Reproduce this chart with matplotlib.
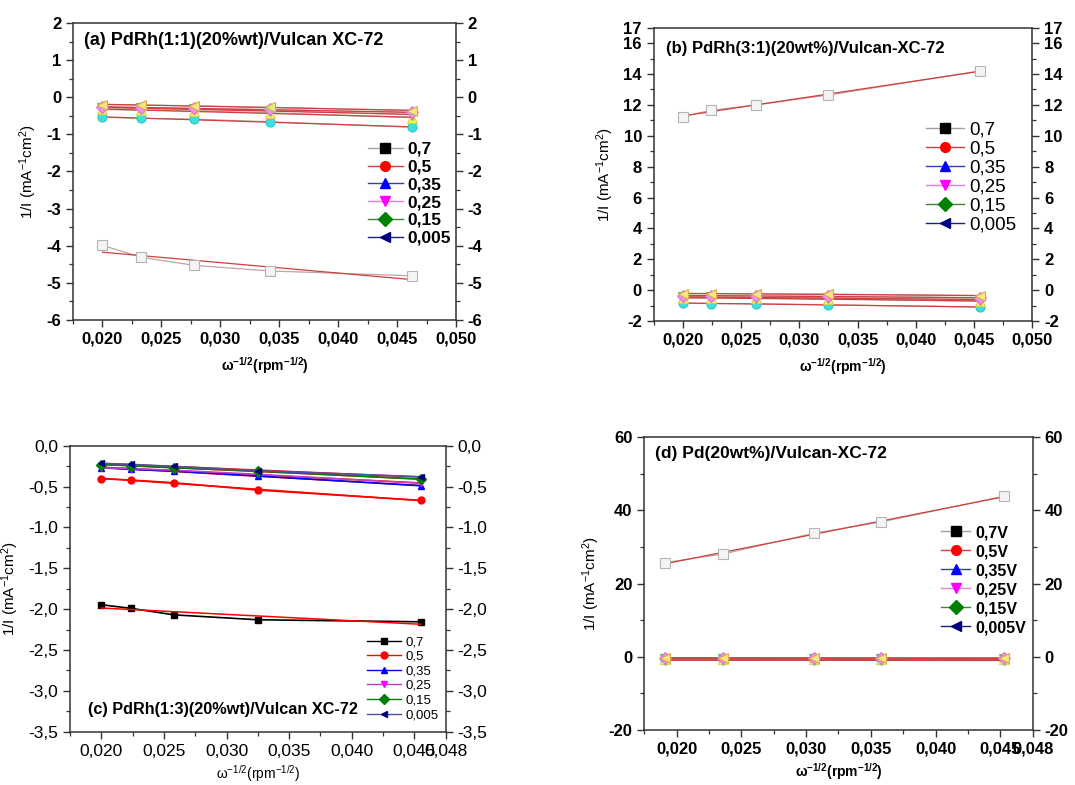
import numpy as np
import matplotlib.pyplot as plt
from matplotlib.lines import Line2D
from matplotlib.ticker import FixedLocator, MultipleLocator, FuncFormatter

plt.rcParams['font.family'] = ['Liberation Sans', 'DejaVu Sans']
plt.rcParams['mathtext.default'] = 'regular'

potentials = ['0,7', '0,5', '0,35', '0,25', '0,15', '0,005']
potentials_d = ['0,7V', '0,5V', '0,35V', '0,25V', '0,15V', '0,005V']

# (a) PdRh(1:1)
x_a = [0.020, 0.0233, 0.0278, 0.0342, 0.0463]
a_07 = [-3.99, -4.31, -4.53, -4.68, -4.81]
a_05 = [-0.54, -0.57, -0.59, -0.66, -0.81]
a_035 = [-0.33, -0.35, -0.37, -0.42, -0.55]
a_025 = [-0.28, -0.30, -0.32, -0.36, -0.47]
a_015 = [-0.26, -0.28, -0.30, -0.33, -0.41]
a_0005 = [-0.20, -0.21, -0.23, -0.27, -0.36]

# (b) PdRh(3:1)
x_b = [0.020, 0.0224, 0.0263, 0.0325, 0.0455]
b_07 = [11.24, 11.65, 12.0, 12.64, 14.2]
b_05 = [-0.85, -0.87, -0.88, -0.95, -1.1]
b_035 = [-0.50, -0.52, -0.53, -0.56, -0.72]
b_025 = [-0.44, -0.46, -0.48, -0.50, -0.62]
b_015 = [-0.35, -0.36, -0.38, -0.40, -0.50]
b_0005 = [-0.22, -0.23, -0.24, -0.26, -0.36]

# (c) PdRh(1:3)
x_c = [0.020, 0.02235, 0.0258, 0.0325, 0.0455]
c_07 = [-1.946, -1.99, -2.07, -2.13, -2.155]
c_05 = [-0.404, -0.42, -0.453, -0.543, -0.669]
c_035 = [-0.27, -0.29, -0.31, -0.37, -0.49]
c_025 = [-0.27, -0.28, -0.30, -0.35, -0.46]
c_015 = [-0.23, -0.245, -0.27, -0.31, -0.41]
c_0005 = [-0.216, -0.228, -0.253, -0.306, -0.38]

# (d) Pd
x_d = [0.0191, 0.0236, 0.0306, 0.0358, 0.0453]
d_07 = [25.74, 28.1, 33.76, 36.86, 43.87]
d_05 = [-0.95, -0.95, -0.98, -0.98, -1.0]
d_035 = [-0.60, -0.60, -0.62, -0.62, -0.65]
d_025 = [-0.50, -0.50, -0.52, -0.52, -0.55]
d_015 = [-0.40, -0.40, -0.42, -0.42, -0.45]
d_0005 = [-0.30, -0.30, -0.32, -0.32, -0.35]

markers = ['s', 'o', '^', 'v', 'D', '<']
orig_colors = ['black', 'red', 'blue', 'magenta', 'green', 'navy']
# washed-out (inverted looking) marker colours of panels a, b, d
inv_face = ['#f4f4f4', '#40dede', '#f6ef6a', '#74e074', '#f290f0', '#f6e486']
inv_edge = ['#b4b4b4', '#2cc8c8', '#e2cf3c', '#4cc44c', '#e070e0', '#e0a846']
leg_lines = ['#a0a0a0', '#d04040', '#3040b0', '#e080e0', '#408040', '#20207a']

def fmtX(v, pos):
  return '{:.3f}'.format(v).replace('.', ',')

def styleAxes(ax, bold=True, size=12):
  for s in ax.spines.values():
    s.set_linewidth(1.1)
    s.set_color('#333333')
  w = 'bold' if bold else 'normal'
  ax.tick_params(which='both', direction='out', right=True, top=False,
                 labelright=True, labelsize=size, color='#333333')
  ax.tick_params(which='major', length=5, width=1.0)
  ax.tick_params(which='minor', length=3, width=0.9)
  for lab in ax.get_xticklabels() + ax.get_yticklabels():
    lab.set_fontweight(w)
  ax.xaxis.set_major_formatter(FuncFormatter(fmtX))
  ax.set_xlabel(r'$\omega^{-1/2}$(rpm$^{-1/2}$)', fontsize=10, fontweight=w, labelpad=6)
  ax.set_ylabel(r'1/I (mA$^{-1}$cm$^{2}$)', fontsize=11, labelpad=5)

def fitLine(ax, x, y, color, lw):
  k, b = np.polyfit(x, y, 1)
  xx = np.array([x[0], x[-1]])
  ax.plot(xx, k * xx + b, color=color, lw=lw, zorder=3)

def fadedPanel(ax, x, series, ms):
  for i, y in enumerate(series):
    ax.plot(x, y, color='#c4a4a4', lw=0.9, zorder=2)
    fitLine(ax, x, y, '#cc4040', 0.9)
    ax.plot(x, y, ls='none', marker=markers[i], ms=ms, mfc=inv_face[i],
            mec=inv_edge[i], mew=0.8, zorder=4 + i)

def legendHandles(line_colors, ms):
  return [Line2D([], [], color=line_colors[i], lw=1.0, marker=markers[i], ms=ms,
                 mfc=orig_colors[i], mec=orig_colors[i]) for i in range(6)]

fig = plt.figure(figsize=(10.75, 7.85), dpi=100)

# ---------------- (a)
ax = fig.add_axes([0.0679, 0.5924, 0.3563, 0.3783])
fadedPanel(ax, x_a, [a_07, a_05, a_035, a_025, a_015, a_0005], 6.5)
ax.set_xlim(0.0175, 0.050)
ax.set_ylim(-6, 2)
ax.xaxis.set_major_locator(MultipleLocator(0.005))
ax.xaxis.set_minor_locator(FixedLocator(np.arange(0.0175, 0.050, 0.005)))
ax.yaxis.set_major_locator(MultipleLocator(1))
ax.yaxis.set_minor_locator(MultipleLocator(0.5))
ax.yaxis.set_major_formatter(FuncFormatter(lambda v, p: '{:g}'.format(v)))
styleAxes(ax)
ax.text(0.03, 0.94, '(a) PdRh(1:1)(20%wt)/Vulcan XC-72', transform=ax.transAxes,
        fontsize=13, fontweight='bold', va='center')
ax.legend(legendHandles(leg_lines, 7), potentials, loc='upper left',
          bbox_to_anchor=(0.77, 0.60), frameon=False,
          prop={'weight': 'bold', 'size': 12.5}, handlelength=2.0,
          handletextpad=0.3, labelspacing=0.15, borderpad=0, borderaxespad=0)

# ---------------- (b)
ax = fig.add_axes([0.6081, 0.5911, 0.3522, 0.3736])
fadedPanel(ax, x_b, [b_07, b_05, b_035, b_025, b_015, b_0005], 6.5)
ax.set_xlim(0.0175, 0.050)
ax.set_ylim(-2, 17)
ax.xaxis.set_major_locator(MultipleLocator(0.005))
ax.xaxis.set_minor_locator(FixedLocator(np.arange(0.0175, 0.050, 0.005)))
ax.yaxis.set_major_locator(FixedLocator([-2, 0, 2, 4, 6, 8, 10, 12, 14, 16, 17]))
ax.yaxis.set_minor_locator(FixedLocator(np.arange(-1, 16, 2)))
ax.yaxis.set_major_formatter(FuncFormatter(lambda v, p: '{:g}'.format(v)))
styleAxes(ax)
ax.text(0.032, 0.93, '(b) PdRh(3:1)(20wt%)/Vulcan-XC-72', transform=ax.transAxes,
        fontsize=12, fontweight='bold', va='center')
ax.legend(legendHandles(leg_lines, 7), potentials, loc='upper left',
          bbox_to_anchor=(0.72, 0.68), frameon=False,
          prop={'size': 13.5}, handlelength=2.0,
          handletextpad=0.3, labelspacing=0.1, borderpad=0, borderaxespad=0)

# ---------------- (c)
ax = fig.add_axes([0.0651, 0.0679, 0.3495, 0.3643])
c_series = [c_07, c_05, c_035, c_025, c_015, c_0005]
c_lines = ['black', 'red', 'blue', '#c040c0', 'green', '#5050a0']
for i, y in enumerate(c_series):
  ax.plot(x_c, y, color=c_lines[i], lw=1.2, marker=markers[i], ms=5,
          mfc=orig_colors[i], mec=orig_colors[i], zorder=3 + i)
  fitLine(ax, x_c, y, 'red', 1.1)
ax.set_xlim(0.0175, 0.0475)
ax.set_ylim(-3.5, 0.0)
ax.xaxis.set_major_locator(FixedLocator([0.020, 0.025, 0.030, 0.035, 0.040, 0.045, 0.0475]))
ax.xaxis.set_minor_locator(FixedLocator(np.arange(0.0175, 0.046, 0.005)))
ax.yaxis.set_major_locator(MultipleLocator(0.5))
ax.yaxis.set_minor_locator(MultipleLocator(0.25))
ax.yaxis.set_major_formatter(FuncFormatter(lambda v, p: '{:.1f}'.format(v).replace('.', ',')))
styleAxes(ax, bold=False, size=12.5)
ax.xaxis.labelpad = 3
ax.text(0.048, 0.076, '(c) PdRh(1:3)(20%wt)/Vulcan XC-72', transform=ax.transAxes,
        fontsize=11.7, fontweight='bold', va='center')
ax.legend(legendHandles(c_lines, 5), potentials, loc='upper left',
          bbox_to_anchor=(0.79, 0.335), frameon=False,
          prop={'size': 9.5}, handlelength=2.6,
          handletextpad=0.3, labelspacing=0.18, borderpad=0, borderaxespad=0)

# ---------------- (d)
ax = fig.add_axes([0.5993, 0.0701, 0.3613, 0.3729])
fadedPanel(ax, x_d, [d_07, d_05, d_035, d_025, d_015, d_0005], 6.5)
ax.set_xlim(0.0175, 0.0475)
ax.set_ylim(-20, 60)
ax.xaxis.set_major_locator(FixedLocator([0.020, 0.025, 0.030, 0.035, 0.040, 0.045, 0.0475]))
ax.xaxis.set_minor_locator(FixedLocator(np.arange(0.0175, 0.046, 0.005)))
ax.yaxis.set_major_locator(MultipleLocator(20))
ax.yaxis.set_minor_locator(MultipleLocator(10))
ax.yaxis.set_major_formatter(FuncFormatter(lambda v, p: '{:g}'.format(v)))
styleAxes(ax)
ax.xaxis.labelpad = 3
ax.text(0.028, 0.943, '(d) Pd(20wt%)/Vulcan-XC-72', transform=ax.transAxes,
        fontsize=12.5, fontweight='bold', va='center')
ax.legend(legendHandles(leg_lines, 7), potentials_d, loc='upper left',
          bbox_to_anchor=(0.765, 0.70), frameon=False,
          prop={'weight': 'bold', 'size': 11.5}, handlelength=1.8,
          handletextpad=0.3, labelspacing=0.25, borderpad=0, borderaxespad=0)

fig.savefig('out.png', dpi=100)
